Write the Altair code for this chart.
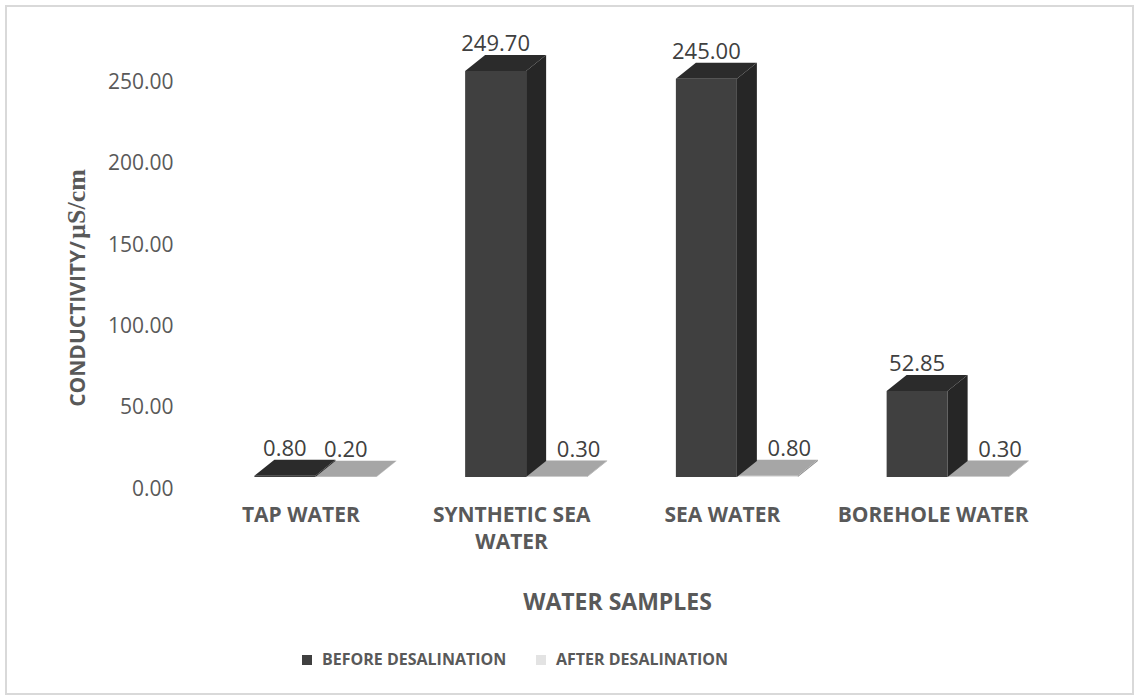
import json

import altair as alt
import pandas as pd

# Conductivity of water samples before and after desalination (µS/cm)
categories = ["TAP WATER", "SYNTHETIC SEA WATER", "SEA WATER", "BOREHOLE WATER"]
category_lines = [["TAP WATER"], ["SYNTHETIC SEA", "WATER"], ["SEA WATER"], ["BOREHOLE WATER"]]
before = [0.80, 249.70, 245.00, 52.85]
after = [0.20, 0.30, 0.80, 0.30]
series_names = ["BEFORE DESALINATION", "AFTER DESALINATION"]
tick_values = [0, 50, 100, 150, 200, 250]
y_title_parts = ["CONDUCTIVITY/", "µS/cm"]

# Plot geometry (pixels) and the 3-D box look
PLOT_W, PLOT_H = 843, 439
Y_MAX = 270
X_MIN, X_MAX = -0.5, 3.5
PX_X = PLOT_W / (X_MAX - X_MIN)
PX_Y = PLOT_H / Y_MAX
BAR_W = 61 / PX_X
DEPTH_X = 20 / PX_X
DEPTH_Y = 16 / PX_Y

FONT = "Open Sans"
SERIF = "Liberation Serif"
GREY_TEXT = "#595959"

face_colors = {
    "BEFORE DESALINATION": {"side": "#262626", "top": "#2b2b2b"},
    "AFTER DESALINATION": {"side": "#8c8c8c", "top": "#a6a6a6"},
}

fronts, faces, labels = [], [], []
for i, cat in enumerate(categories):
    for s, vals in zip(series_names, (before, after)):
        v = vals[i]
        x0 = i - BAR_W if s == series_names[0] else i
        x1 = x0 + BAR_W
        fronts.append({"series": s, "x0": x0, "x1": x1, "v": v})
        # right-hand side face: parallelogram from the front edge back by the depth
        side_id = f"{cat}-{s}-side"
        faces += [
            {"face": side_id, "series": s, "kind": "side", "x": x1, "y": v, "y2": 0},
            {"face": side_id, "series": s, "kind": "side", "x": x1 + DEPTH_X, "y": v + DEPTH_Y, "y2": DEPTH_Y},
        ]
        # top face: parallelogram on the bar's value
        top_id = f"{cat}-{s}-top"
        faces += [
            {"face": top_id, "series": s, "kind": "top", "x": x0, "y": v, "y2": v},
            {"face": top_id, "series": s, "kind": "top", "x": x0 + DEPTH_X, "y": v + DEPTH_Y, "y2": v},
            {"face": top_id, "series": s, "kind": "top", "x": x1, "y": v + DEPTH_Y, "y2": v},
            {"face": top_id, "series": s, "kind": "top", "x": x1 + DEPTH_X, "y": v + DEPTH_Y, "y2": v + DEPTH_Y},
        ]
        # after-labels slide right to clear the side of a tall neighbouring bar
        shift = DEPTH_X * 1.1 if (s == series_names[1] and before[i] > 10) else 0
        labels.append({"series": s, "x": (x0 + x1) / 2 + shift, "y": v + DEPTH_Y, "text": f"{v:.2f}"})

fronts_df = pd.DataFrame(fronts)
faces_df = pd.DataFrame(faces)
labels_df = pd.DataFrame(labels)

label_expr = f"{json.dumps(category_lines)}[round(datum.value)]"

x_scale = alt.Scale(domain=[X_MIN, X_MAX], nice=False, zero=False)
y_scale = alt.Scale(domain=[0, Y_MAX], nice=False, zero=True)

x_axis = alt.Axis(
    values=[0, 1, 2, 3], labelExpr=label_expr, domain=False, ticks=False, grid=False,
    labelFont=FONT, labelFontSize=21, labelFontWeight="bold", labelColor=GREY_TEXT,
    labelOffset=-15, labelPadding=27, labelLineHeight=27, labelBaseline="top", labelLimit=400,
    title="WATER SAMPLES", titleFont=FONT, titleFontSize=23, titleFontWeight="bold",
    titleColor=GREY_TEXT, titleX=407, titleY=125, titleBaseline="middle", titleAlign="center",
)
y_axis = alt.Axis(
    values=tick_values, format=".2f", domain=False, ticks=False, grid=False,
    labelFont=FONT, labelFontSize=21, labelColor=GREY_TEXT, labelPadding=37, labelOffset=12,
    title=None,
)


def X(field):
    return alt.X(field, type="quantitative", scale=x_scale, axis=x_axis)


def Y(field):
    return alt.Y(field, type="quantitative", scale=y_scale, axis=y_axis)


front_layer = alt.Chart(fronts_df).mark_rect().encode(
    x=X("x0"), x2="x1", y=Y("v"), y2=alt.Y2(datum=0),
    color=alt.Color(
        "series:N",
        scale=alt.Scale(domain=series_names, range=["#404040", "#e3e3e3"]),
        legend=alt.Legend(
            title=None, orient="none", legendX=89, legendY=614, direction="horizontal",
            symbolType="square", symbolSize=100, symbolStrokeWidth=0,
            labelFont=FONT, labelFontSize=16, labelFontWeight="bold", labelColor=GREY_TEXT,
            labelOffset=7, columnPadding=26, labelLimit=400,
        ),
    ),
)


def face_layer(series, kind):
    data = faces_df[(faces_df["series"] == series) & (faces_df["kind"] == kind)]
    return alt.Chart(data).mark_area(
        orient="vertical", color=face_colors[series][kind], interpolate="linear"
    ).encode(x=X("x"), y=Y("y"), y2="y2", detail="face:N")


text_layer = alt.Chart(labels_df).mark_text(
    font=FONT, fontSize=22, color="#404040", baseline="bottom", dy=1
).encode(x=X("x"), y=Y("y"), text="text:N")

# Vertical axis title: sans-serif quantity name followed by the serif unit
title_sans = alt.Chart(pd.DataFrame({"t": [y_title_parts[0]]})).mark_text(
    font=FONT, fontSize=21, fontWeight="bold", color=GREY_TEXT, angle=270,
    align="center", baseline="alphabetic",
).encode(text="t:N", x=alt.value(-125), y=alt.value(286))
title_serif = alt.Chart(pd.DataFrame({"t": [y_title_parts[1]]})).mark_text(
    font=SERIF, fontSize=26, fontWeight="bold", color=GREY_TEXT, angle=270,
    align="center", baseline="alphabetic",
).encode(text="t:N", x=alt.value(-125), y=alt.value(166))

frame = alt.Chart(pd.DataFrame({"f": [0]})).mark_rect(
    fillOpacity=0, stroke="#d9d9d9", strokeWidth=2
).encode(x=alt.value(-204), x2=alt.value(923), y=alt.value(-32), y2=alt.value(656))

chart = alt.layer(
    frame,
    front_layer,
    face_layer(series_names[1], "side"),
    face_layer(series_names[1], "top"),
    face_layer(series_names[0], "side"),
    face_layer(series_names[0], "top"),
    text_layer,
    title_sans,
    title_serif,
).properties(
    width=PLOT_W, height=PLOT_H,
    autosize=alt.AutoSizeParams(type="none"),
    padding={"left": 210, "top": 38, "right": 1139 - 210 - PLOT_W, "bottom": 700 - 38 - PLOT_H},
    background="white",
).configure_view(strokeWidth=0)

chart.save("out.html", embed_options={"renderer": "svg", "actions": False})
